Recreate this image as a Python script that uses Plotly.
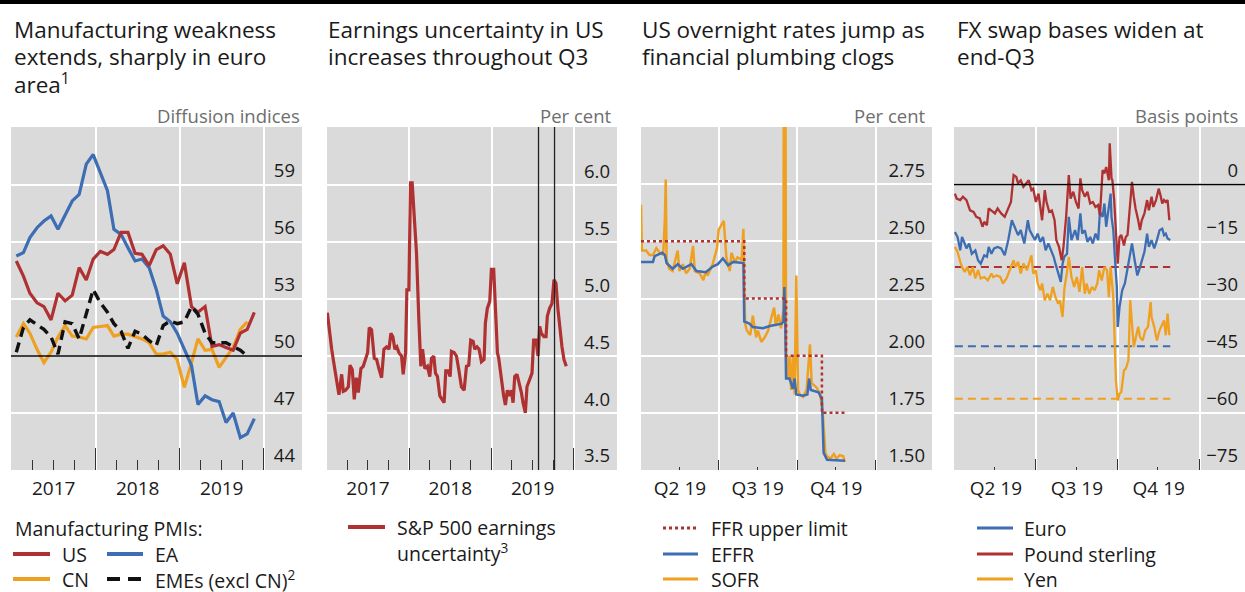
import numpy as np
import pandas as pd
import plotly.graph_objects as go

W, H = 1245, 592
FONT = "Open Sans"
RED, BLUE, ORANGE, BLACK = "#AF3131", "#3D6DB2", "#EFA020", "#111111"
BG = "#DADADA"
TXT = "#1a1a1a"
GREY_TXT = "#6e6e6e"

# ---------------- Panel 1: Manufacturing PMIs (monthly, Jan 2017 onward) ----------------
pmi_months = pd.date_range("2017-01-01", periods=35, freq="MS") + pd.Timedelta(days=20)
pmi_us = [55.0, 54.2, 53.3, 52.8, 52.6, 51.9, 53.3, 52.9, 53.2, 54.65, 54.0, 55.1, 55.5, 55.35,
          55.6, 56.5, 56.5, 55.4, 55.35, 54.75, 55.6, 55.8, 55.35, 53.8, 54.9, 52.6, 52.3, 52.6,
          50.5, 50.6, 50.45, 50.3, 51.2, 51.4, 52.3]
pmi_ea = [55.26, 55.44, 56.23, 56.75, 57.1, 57.37, 56.67, 57.46, 58.16, 58.5, 60.1, 60.6, 59.65,
          58.7, 56.67, 56.4, 55.7, 55.0, 55.1, 54.65, 53.5, 52.1, 51.8, 51.2, 50.35, 49.5, 47.45,
          47.9, 47.7, 47.6, 46.5, 47.0, 45.7, 45.9, 46.7]
pmi_cn = [51.0, 51.7, 51.2, 50.35, 49.65, 50.2, 51.0, 51.6, 51.05, 51.0, 50.9, 51.5, 51.55, 51.6,
          51.05, 51.15, 51.15, 51.0, 50.9, 50.7, 50.1, 50.1, 50.2, 49.8, 48.35, 49.65, 50.9, 50.3,
          50.35, 49.4, 49.9, 50.45, 51.4, 51.8]
pmi_eme = [50.2, 51.5, 51.9, 51.65, 51.4, 51.0, 50.1, 51.8, 51.7, 50.9, 52.3, 53.5, 52.8, 52.3,
           51.7, 51.3, 50.4, 51.3, 51.15, 50.8, 50.55, 51.6, 51.85, 51.7, 51.8, 52.6, 52.2, 51.2,
           50.7, 50.7, 50.7, 50.5, 50.3, 50.0]
pmi_ref = 50
p1_yticks = [44, 47, 50, 53, 56, 59]

# ---------------- Panel 2: S&P 500 earnings uncertainty (years since 1 Jan 2017) ----------------
sp_t = [0.004, 0.036, 0.057, 0.089, 0.117, 0.145, 0.178, 0.198, 0.226, 0.259, 0.279, 0.307, 0.331,
        0.356, 0.380, 0.412, 0.440, 0.469, 0.493, 0.513, 0.541, 0.574, 0.602, 0.630, 0.663, 0.691,
        0.723, 0.752, 0.776, 0.800, 0.824, 0.848, 0.873, 0.905, 0.925, 0.954, 0.970, 0.994, 1.014,
        1.034, 1.059, 1.087, 1.115, 1.139, 1.160, 1.188, 1.220, 1.248, 1.269, 1.297, 1.317, 1.341,
        1.370, 1.398, 1.422, 1.442, 1.471, 1.495, 1.511, 1.543, 1.572, 1.600, 1.632, 1.665, 1.693,
        1.721, 1.745, 1.774, 1.794, 1.822, 1.846, 1.875, 1.907, 1.923, 1.947, 1.976, 1.996, 2.024,
        2.044, 2.069, 2.085, 2.117, 2.145, 2.166, 2.190, 2.210, 2.238, 2.259, 2.279, 2.307, 2.335,
        2.360, 2.380, 2.408, 2.428, 2.461, 2.489, 2.509, 2.537, 2.562, 2.582, 2.602, 2.634, 2.659,
        2.675, 2.703, 2.731, 2.756, 2.780, 2.804, 2.828, 2.853, 2.877, 2.905]
sp_v = [4.88, 4.67, 4.56, 4.41, 4.26, 4.16, 4.34, 4.19, 4.20, 4.23, 4.42, 4.38, 4.12, 4.31, 4.18,
        4.39, 4.41, 4.48, 4.53, 4.75, 4.73, 4.48, 4.47, 4.39, 4.31, 4.56, 4.58, 4.56, 4.70, 4.67,
        4.56, 4.58, 4.53, 4.50, 4.34, 4.53, 5.08, 5.08, 6.02, 6.02, 5.67, 5.40, 4.82, 4.41, 4.56,
        4.39, 4.41, 4.32, 4.48, 4.50, 4.35, 4.32, 4.15, 4.12, 4.09, 4.37, 4.37, 4.32, 4.54, 4.53,
        4.50, 4.38, 4.23, 4.20, 4.41, 4.42, 4.64, 4.63, 4.56, 4.58, 4.56, 4.45, 4.47, 4.79, 4.92,
        4.98, 5.26, 5.26, 4.96, 4.53, 4.48, 4.29, 4.15, 4.07, 4.20, 4.15, 4.20, 4.09, 4.32, 4.34,
        4.26, 4.18, 4.09, 4.00, 4.23, 4.29, 4.35, 4.64, 4.64, 4.50, 4.76, 4.70, 4.67, 4.67, 4.85,
        4.92, 4.96, 5.17, 5.14, 4.91, 4.73, 4.58, 4.47, 4.41]
sp_markers = ["2019-07-28", "2019-10-07"]
p2_yticks = [3.5, 4.0, 4.5, 5.0, 5.5, 6.0]

# ---------------- Panel 3: US overnight rates (days since 1 Apr 2019) ----------------
ffr_d = [0, 121, 170, 212, 239]
ffr_v = [2.50, 2.25, 2.00, 1.75, 1.75]
effr_d = [0, 14, 16, 25, 28, 30, 37, 43, 49, 59, 65, 76, 84, 90, 96, 102, 108, 120, 121, 127, 131,
          143, 151, 165, 167, 168, 169, 170, 174, 178, 180, 182, 190, 195, 197, 199, 208, 212, 214,
          218, 239]
effr_v = [2.41, 2.41, 2.435, 2.45, 2.44, 2.405, 2.38, 2.40, 2.38, 2.40, 2.37, 2.365, 2.39, 2.40,
          2.425, 2.395, 2.41, 2.405, 2.15, 2.14, 2.125, 2.12, 2.13, 2.14, 2.15, 2.30, 2.16, 1.90,
          1.90, 1.855, 1.90, 1.83, 1.825, 1.83, 1.90, 1.85, 1.84, 1.81, 1.575, 1.545, 1.54]
sofr_d = [0, 1, 6, 10, 14, 18, 22, 26, 28, 29, 30, 33, 37, 43, 45, 49, 53, 57, 61, 63, 69, 73, 76,
          78, 84, 89, 91, 97, 100, 104, 106, 110, 113, 118, 120, 121, 122, 124, 128, 131, 135, 137,
          141, 145, 149, 153, 156, 158, 161, 164, 166, 167, 168, 169, 170, 172, 174, 176, 178, 180,
          182, 184, 186, 190, 194, 198, 200, 203, 206, 210, 213, 216, 218, 222, 226, 229, 233, 237,
          239]
sofr_v = [2.66, 2.46, 2.46, 2.44, 2.44, 2.47, 2.45, 2.44, 2.60, 2.77, 2.42, 2.38, 2.37, 2.46, 2.37,
          2.40, 2.36, 2.38, 2.48, 2.37, 2.36, 2.33, 2.37, 2.35, 2.40, 2.47, 2.55, 2.59, 2.43, 2.37,
          2.45, 2.41, 2.43, 2.42, 2.555, 2.40, 2.14, 2.11, 2.09, 2.175, 2.08, 2.11, 2.06, 2.08, 2.11,
          2.17, 2.21, 2.13, 2.18, 2.12, 2.19, 2.20, 5.25, 2.55, 2.03, 1.90, 2.00, 1.85, 2.00, 1.83,
          2.35, 1.85, 1.83, 1.82, 1.85, 2.05, 1.88, 1.87, 1.86, 1.83, 1.75, 1.575, 1.56, 1.55, 1.57,
          1.55, 1.565, 1.56, 1.535]
p3_yticks = [1.50, 1.75, 2.00, 2.25, 2.50, 2.75]

# ---------------- Panel 4: FX swap bases (days since 1 Apr 2019) ----------------
eur_d = [0, 3, 6, 8, 11, 13, 16, 19, 23, 26, 29, 33, 36, 38, 41, 44, 48, 52, 56, 60, 64, 67, 71, 74,
         78, 82, 84, 87, 90, 93, 96, 99, 102, 105, 108, 111, 113, 116, 119, 121, 123, 126, 128, 131,
         135, 138, 141, 143, 146, 149, 152, 155, 158, 161, 163, 166, 168, 170, 173, 175, 176, 178,
         180, 182, 183, 185, 188, 191, 193, 196, 199, 202, 205, 207, 210, 213, 216, 218, 221, 224,
         227, 230, 233, 235, 237, 239, 242]
eur_v = [-12.5, -13.8, -17.3, -13.8, -15.5, -16.8, -15.5, -18.2, -17.3, -19.9, -20.8, -18.6, -19.0,
         -16.4, -18.2, -16.8, -16.4, -16.8, -18.6, -14.6, -9.4, -11.1, -13.3, -12.0, -15.5, -9.4,
         -12.0, -13.3, -14.6, -12.9, -15.1, -13.8, -17.3, -15.5, -17.3, -19.0, -20.8, -23.0, -25.6,
         -20.8, -19.0, -18.2, -8.5, -14.6, -12.0, -14.6, -7.6, -12.9, -12.0, -15.1, -13.8, -15.5,
         -12.9, -14.6, -7.2, -8.5, -5.0, -11.1, -5.9, -2.4, -8.5, -12.0, -19.9, -26.9, -37.4, -32.2,
         -27.8, -26.0, -23.4, -19.5, -15.5, -19.9, -23.9, -22.5, -19.9, -17.7, -12.9, -16.4, -14.6,
         -16.8, -14.6, -12.0, -11.6, -13.3, -12.9, -14.2, -14.6]
gbp_d = [0, 2, 6, 9, 13, 17, 21, 24, 28, 31, 33, 36, 38, 41, 45, 48, 52, 56, 60, 63, 66, 69, 71, 74,
         77, 80, 83, 86, 88, 91, 94, 98, 101, 103, 106, 109, 112, 114, 117, 120, 122, 125, 128, 130,
         133, 136, 139, 141, 143, 146, 149, 152, 155, 158, 161, 163, 166, 168, 170, 173, 174, 176,
         177, 179, 181, 183, 185, 187, 190, 192, 194, 197, 199, 201, 203, 206, 208, 210, 213, 216,
         218, 221, 223, 226, 229, 231, 233, 235, 237, 239, 241]
gbp_v = [-2.4, -3.7, -4.1, -3.2, -4.1, -6.8, -7.2, -8.5, -8.9, -11.1, -9.8, -10.7, -6.3, -6.8, -7.6,
         -6.3, -7.6, -8.5, -6.3, -4.6, 2.5, 2.0, 0.3, 1.1, -0.6, 0.3, 1.1, -1.5, -1.1, -4.6, -2.4,
         -9.4, -1.5, -4.6, -7.2, -6.8, -9.4, -14.6, -16.4, -19.9, -16.4, -8.5, 2.5, -3.7, -1.9, -4.6,
         -6.3, 1.6, -1.5, -3.2, -1.9, -5.0, -4.6, -5.9, -5.4, -8.1, 3.8, 2.9, 4.6, 1.1, 10.8, 1.6,
         1.1, -4.1, -11.1, -20.8, -13.8, -13.3, -16.0, -13.8, -13.3, -3.2, 0.7, -3.2, -6.3, -9.4,
         -12.0, -9.4, -7.6, -4.1, -6.8, -3.2, -5.9, -4.1, -1.1, -2.8, -5.0, -4.1, -4.6, -4.1, -9.4]
jpy_d = [0, 3, 6, 8, 11, 14, 17, 20, 23, 26, 29, 33, 37, 41, 43, 47, 51, 54, 58, 62, 66, 68, 71, 74,
         77, 81, 86, 88, 91, 93, 96, 98, 101, 104, 107, 110, 113, 116, 118, 121, 123, 126, 128, 131,
         134, 137, 140, 143, 146, 148, 151, 154, 157, 160, 162, 165, 168, 171, 173, 175, 176, 178,
         180, 181, 183, 185, 187, 190, 192, 195, 197, 199, 201, 203, 206, 208, 211, 214, 217, 220,
         221, 224, 227, 230, 233, 235, 237, 239, 241]
jpy_v = [-16.4, -17.7, -20.3, -21.7, -23.0, -21.7, -23.9, -21.7, -24.7, -22.5, -24.7, -24.3, -25.2,
         -23.4, -24.3, -23.9, -24.3, -26.0, -24.7, -22.5, -19.9, -21.7, -20.3, -23.4, -20.8, -22.5,
         -18.6, -23.4, -22.5, -26.0, -27.8, -26.0, -30.4, -28.7, -30.4, -26.9, -29.6, -31.3, -30.4,
         -34.8, -27.4, -23.0, -19.0, -24.3, -26.9, -24.3, -28.2, -21.7, -28.7, -26.0, -28.7, -26.9,
         -27.8, -26.0, -22.5, -25.2, -21.7, -22.5, -29.6, -21.7, -25.2, -29.6, -44.5, -51.5, -56.7,
         -55.0, -54.5, -48.8, -48.4, -46.2, -30.4, -37.4, -42.7, -40.5, -37.4, -40.1, -41.0, -38.3,
         -37.4, -30.9, -34.8, -37.4, -41.0, -38.3, -36.6, -35.7, -39.6, -33.9, -39.6]
fx_ref_d = [0, 242]
eur_ref, gbp_ref, jpy_ref = -42.5, -21.7, -56.3
p4_yticks = [-75, -60, -45, -30, -15, 0]

# ---------------- date conversion ----------------
BASE17 = pd.Timestamp("2017-01-01")
BASE19 = pd.Timestamp("2019-04-01")
sp_dates = BASE17 + pd.to_timedelta(np.array(sp_t) * 365.25, unit="D")


def d19(days):
    return BASE19 + pd.to_timedelta(np.array(days), unit="D")


# ---------------- geometry helpers (layout positions in px) ----------------
def px(x):
    return x / W


def py(y):
    return 1 - y / H


YB, YT = py(470), py(127)
DOM = {1: (11, 302), 2: (327, 617), 3: (641, 932), 4: (954, 1245)}

fig = go.Figure()


def line(x, y, ax, color, width, dash=None, shape="linear"):
    fig.add_trace(go.Scatter(x=x, y=y, mode="lines", xaxis="x" + ("" if ax == 1 else str(ax)),
                             yaxis="y" + ("" if ax == 1 else str(ax)),
                             line=dict(color=color, width=width, dash=dash, shape=shape),
                             hoverinfo="skip", showlegend=False))


# Panel 1
line(pmi_months[:len(pmi_cn)], pmi_cn, 1, ORANGE, 3.2)
line(pmi_months, pmi_ea, 1, BLUE, 3.2)
line(pmi_months, pmi_us, 1, RED, 3.2)
line(pmi_months[:len(pmi_eme)], pmi_eme, 1, BLACK, 3.4, dash="10px,6px")
# Panel 2
line(sp_dates, sp_v, 2, RED, 3.2)
# Panel 3
line(d19(sofr_d), sofr_v, 3, ORANGE, 2.5)
line(d19(effr_d), effr_v, 3, BLUE, 2.5)
line(d19(ffr_d), ffr_v, 3, RED, 2.5, dash="3px,3px", shape="hv")
# Panel 4
line(d19(fx_ref_d), [gbp_ref] * 2, 4, RED, 2, dash="8px,5px")
line(d19(fx_ref_d), [eur_ref] * 2, 4, BLUE, 2, dash="8px,5px")
line(d19(fx_ref_d), [jpy_ref] * 2, 4, ORANGE, 2, dash="8px,5px")
line(d19(jpy_d), jpy_v, 4, ORANGE, 2.3)
line(d19(eur_d), eur_v, 4, BLUE, 2.3)
line(d19(gbp_d), gbp_v, 4, RED, 2.3)

TICKC = "#333333"


def xcfg(i, rng, tickvals, ticktext, shift, ticklen, minor_vals, minor_len):
    return dict(domain=[px(DOM[i][0]), px(DOM[i][1])], anchor="y" if i == 1 else f"y{i}",
                type="date", range=rng, tickmode="array", tickvals=tickvals, ticktext=ticktext,
                ticklabelshift=shift, ticklabelstandoff=5, ticks="inside", ticklen=ticklen,
                tickwidth=1.3, tickcolor=TICKC, showgrid=True, gridcolor="white", gridwidth=1.5,
                zeroline=False, showline=False, fixedrange=True,
                tickfont=dict(size=19, color=TXT, family=FONT),
                minor=dict(tickmode="array", tickvals=minor_vals, ticks="inside", ticklen=minor_len,
                           tickwidth=1.3, tickcolor=TICKC, showgrid=False))


def ycfg(i, rng, tickvals, fmt):
    return dict(domain=[YB, YT], anchor="x" if i == 1 else f"x{i}", side="right", range=rng,
                tickmode="array", tickvals=tickvals, tickformat=fmt, ticklabelposition="inside",
                ticklabelshift=-14, ticklabelstandoff=4, ticks="", showgrid=True, gridcolor="white",
                gridwidth=1.5, zeroline=False, showline=False, fixedrange=True,
                tickfont=dict(size=18.5, color=TXT, family=FONT))


years = ["2017-01-01", "2018-01-01", "2019-01-01", "2020-01-01"]
year_txt = ["2017", "2018", "2019", ""]
quarters_1719 = [f"{y}-{m}-01" for y in (2017, 2018, 2019) for m in ("04", "07", "10")]
quarters_19 = ["2019-04-01", "2019-07-01", "2019-10-01", "2020-01-01"]
quarter_txt = ["Q2 19", "Q3 19", "Q4 19", ""]
midq_19 = ["2019-05-16", "2019-08-16", "2019-11-15"]

layout = dict(
    width=W, height=H, margin=dict(l=0, r=0, t=0, b=0), paper_bgcolor="white", plot_bgcolor=BG,
    font=dict(family=FONT, color=TXT), hovermode=False, showlegend=False,
    xaxis=xcfg(1, ["2016-12-29", "2020-06-15"], years, year_txt, 42, 22, quarters_1719, 10),
    xaxis2=xcfg(2, ["2017-01-01", "2020-07-10"], years, year_txt, 41, 22, quarters_1719, 10),
    xaxis3=xcfg(3, ["2019-04-01", "2020-03-07"], quarters_19, quarter_txt, 39, 10, midq_19, 3),
    xaxis4=xcfg(4, ["2019-03-31", "2020-02-21"], quarters_19, quarter_txt, 41, 11, midq_19, 3),
    yaxis=ycfg(1, [44, 62.05], p1_yticks, "d"),
    yaxis2=ycfg(2, [3.5, 6.51], p2_yticks, ".1f"),
    yaxis3=ycfg(3, [1.5, 3.0], p3_yticks, ".2f"),
    yaxis4=ycfg(4, [-75, 15.1], p4_yticks, "d"),
)
fig.update_layout(**layout)

shapes = [
    dict(type="line", xref="paper", yref="paper", x0=0, x1=1, y0=py(2), y1=py(2),
         line=dict(color="black", width=4)),
    dict(type="line", xref="x domain", yref="y", x0=0, x1=1, y0=pmi_ref, y1=pmi_ref,
         line=dict(color="black", width=1.3)),
    dict(type="line", xref="x4 domain", yref="y4", x0=0, x1=1, y0=0, y1=0,
         line=dict(color="black", width=1.3)),
]
for d in sp_markers:
    shapes.append(dict(type="line", xref="x2", yref="y2 domain", x0=d, x1=d, y0=0, y1=1,
                       line=dict(color="#222222", width=1.3)))

annotations = []


def text(x, y, s, size=20, color=TXT, anchor="left"):
    annotations.append(dict(x=px(x), y=py(y), xref="paper", yref="paper", text=s, showarrow=False,
                            xanchor=anchor, yanchor="middle",
                            font=dict(size=size, color=color, family=FONT)))


def sample(x0, x1, y, color, width, dash=None):
    shapes.append(dict(type="line", xref="paper", yref="paper", x0=px(x0), x1=px(x1), y0=py(y),
                       y1=py(y), line=dict(color=color, width=width, dash=dash)))


# titles
TS = 22.5
TY = [29, 56, 83]
for x0, lines in [(12, ["Manufacturing weakness", "extends, sharply in euro", "area<sup>1</sup>"]),
                  (326, ["Earnings uncertainty in US", "increases throughout Q3"]),
                  (640, ["US overnight rates jump as", "financial plumbing clogs"]),
                  (955, ["FX swap bases widen at", "end-Q3"])]:
    for k, s in enumerate(lines):
        text(x0, TY[k], s, size=TS)

# unit labels
for xr, s in [(302, "Diffusion indices"), (613, "Per cent"), (927, "Per cent"), (1240, "Basis points")]:
    text(xr, 115, s, size=18.5, color=GREY_TXT, anchor="right")

# legends
LS = 19.5
R1, R2, R3 = 528, 554, 579
text(13, R1, "Manufacturing PMIs:", size=LS)
sample(13, 50, R2, RED, 4); text(60, R2, "US", size=LS)
sample(107, 143, R2, BLUE, 4); text(153, R2, "EA", size=LS)
sample(13, 50, R3, ORANGE, 4); text(60, R3, "CN", size=LS)
sample(107, 143, R3, BLACK, 4, dash="13px,8px"); text(153, R3, "EMEs (excl CN)<sup>2</sup>", size=LS)

sample(348, 385, 527, RED, 4)
text(395, 527, "S&P 500 earnings", size=LS); text(395, 552, "uncertainty<sup>3</sup>", size=LS)

sample(663, 698, R1, RED, 3, dash="3px,3px"); text(709, R1, "FFR upper limit", size=LS)
sample(663, 698, R2, BLUE, 3); text(709, R2, "EFFR", size=LS)
sample(663, 698, R3, ORANGE, 3); text(709, R3, "SOFR", size=LS)

sample(977, 1013, R1, BLUE, 3); text(1022, R1, "Euro", size=LS)
sample(977, 1013, R2, RED, 3); text(1022, R2, "Pound sterling", size=LS)
sample(977, 1013, R3, ORANGE, 3); text(1022, R3, "Yen", size=LS)

fig.update_layout(shapes=shapes, annotations=annotations)
fig.write_html("out.html", config={"displayModeBar": False},
               post_script="document.body.style.margin='0';document.body.style.overflow='hidden';")
